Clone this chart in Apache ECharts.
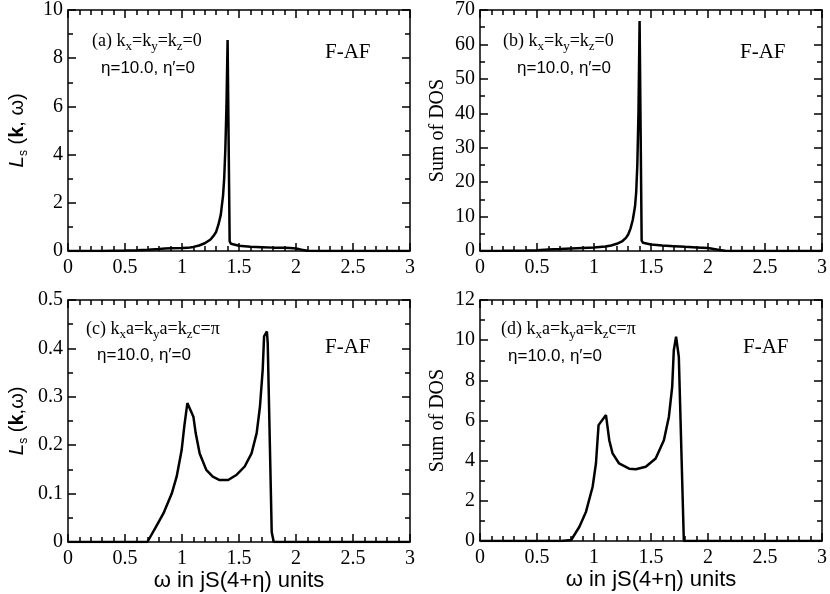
<!DOCTYPE html>
<html>
<head>
<meta charset="utf-8">
<script src="https://cdn.jsdelivr.net/npm/echarts@6/dist/echarts.min.js"></script>
<style>
  html, body { margin: 0; padding: 0; background: #fff; }
  #main { width: 830px; height: 594px; }
</style>
</head>
<body>
<div id="main"></div>
<script>
// (a) k=0 spectral function
var omegaA = [0, 0.3, 0.5, 0.6, 0.7, 0.8, 0.85, 0.9, 1.0, 1.05, 1.1, 1.15, 1.2, 1.25, 1.28, 1.3, 1.32, 1.34, 1.36, 1.37, 1.38, 1.39, 1.40, 1.418, 1.43, 1.5, 1.6, 1.7, 1.8, 1.9, 1.95, 2.0, 2.05, 2.1, 2.2, 3.0];
var lsA    = [0, 0.005, 0.02, 0.03, 0.05, 0.08, 0.1, 0.11, 0.12, 0.13, 0.17, 0.23, 0.32, 0.48, 0.65, 0.8, 1.1, 1.5, 2.3, 3.0, 4.2, 6.0, 8.75, 0.4, 0.3, 0.22, 0.18, 0.16, 0.14, 0.13, 0.12, 0.1, 0.05, 0.01, 0, 0];

// (b) k=0 sum of DOS
var omegaB = [0, 0.2, 0.4, 0.5, 0.6, 0.7, 0.8, 0.9, 1.0, 1.1, 1.15, 1.2, 1.25, 1.28, 1.3, 1.32, 1.34, 1.36, 1.37, 1.38, 1.39, 1.40, 1.418, 1.43, 1.5, 1.6, 1.7, 1.8, 1.9, 2.0, 2.05, 2.1, 2.15, 2.2, 3.0];
var dosB   = [0, 0.05, 0.15, 0.25, 0.4, 0.55, 0.75, 0.9, 1.0, 1.3, 1.6, 2.1, 2.9, 3.8, 4.8, 6.5, 9, 13, 17, 25, 40, 66.8, 3, 2.4, 1.9, 1.6, 1.4, 1.2, 1.05, 0.9, 0.6, 0.3, 0.05, 0, 0];

// (c) k=pi spectral function
var omegaC = [0, 0.696, 0.764, 0.837, 0.91, 0.953, 0.997, 1.02, 1.047, 1.10, 1.12, 1.155, 1.213, 1.27, 1.33, 1.405, 1.48, 1.55, 1.61, 1.655, 1.684, 1.708, 1.72, 1.745, 1.752, 1.787, 1.805, 3.0];
var lsC    = [0, 0, 0.028, 0.059, 0.10, 0.135, 0.19, 0.239, 0.287, 0.259, 0.225, 0.183, 0.149, 0.135, 0.128, 0.128, 0.139, 0.156, 0.183, 0.225, 0.28, 0.356, 0.425, 0.435, 0.41, 0.02, 0, 0];

// (d) k=pi sum of DOS
var omegaD = [0, 0.71, 0.80, 0.872, 0.93, 0.988, 1.017, 1.04, 1.105, 1.134, 1.163, 1.22, 1.308, 1.367, 1.454, 1.541, 1.613, 1.657, 1.686, 1.70, 1.72, 1.744, 1.788, 3.0];
var dosD   = [0, 0, 0.05, 0.71, 1.46, 2.7, 3.86, 5.77, 6.27, 5.02, 4.36, 3.86, 3.6, 3.57, 3.7, 4.11, 5.02, 6.19, 7.68, 9.5, 10.17, 9.17, 0, 0];

var yMax = [10, 70, 0.5, 12];
var yStep = [2, 10, 0.1, 2];

var serif = 'Liberation Serif';
var sans = 'Liberation Sans';

var grids = [
    {left: 68, top: 10, width: 342, height: 241},
    {left: 480, top: 10, width: 344, height: 241},
    {left: 68, top: 300, width: 342, height: 242},
    {left: 480, top: 300, width: 344, height: 241}
];

var zip = function (xs, ys) {
    var res = [];
    for (var i = 0; i < xs.length; i++) {
        res.push([xs[i], ys[i]]);
    }
    return res;
};

var tickStyle = {show: true, inside: true, length: 8, lineStyle: {color: '#000', width: 1.5}};
var minorStyle = {show: true, length: 5, lineStyle: {color: '#000', width: 1.5}};
var lineStyle = {show: true, onZero: false, lineStyle: {color: '#000', width: 1.5}};

var lsRich = {
    L: {fontFamily: sans, fontStyle: 'italic', fontSize: 21, lineHeight: 26, verticalAlign: 'middle'},
    s: {fontFamily: sans, fontSize: 12, lineHeight: 12, verticalAlign: 'bottom'},
    t: {fontFamily: sans, fontSize: 20, lineHeight: 26, verticalAlign: 'middle'},
    b: {fontFamily: sans, fontSize: 20, fontWeight: 'bold', lineHeight: 26, verticalAlign: 'middle'}
};
var lsNames = [
    '{L|L}{s|s}{t| (}{b|k}{t|, ω)}',
    '{L|L}{s|s}{t| (}{b|k}{t|,ω)}'
];

var xAxes = [], yAxes = [];
for (var g = 0; g < 4; g++) {
    var bottom = {
        type: 'value', gridIndex: g, position: 'bottom', min: 0, max: 3, interval: 0.5,
        axisLine: lineStyle, axisTick: tickStyle,
        minorTick: Object.assign({splitNumber: 5}, minorStyle),
        splitLine: {show: false},
        axisLabel: {color: '#000', fontFamily: serif, fontSize: 20, margin: 7}
    };
    if (g >= 2) {
        bottom.name = 'ω in jS(4+η) units';
        bottom.nameLocation = 'middle';
        bottom.nameGap = 25;
        bottom.nameTextStyle = {color: '#000', fontFamily: sans, fontSize: 22};
    }
    xAxes.push(bottom);
    xAxes.push({
        type: 'value', gridIndex: g, position: 'top', min: 0, max: 3, interval: 0.5,
        axisLine: lineStyle, axisTick: tickStyle,
        minorTick: Object.assign({splitNumber: 5}, minorStyle),
        splitLine: {show: false}, axisLabel: {show: false}
    });

    var left = {
        type: 'value', gridIndex: g, position: 'left', min: 0, max: yMax[g], interval: yStep[g],
        axisLine: lineStyle, axisTick: tickStyle,
        minorTick: Object.assign({splitNumber: 2}, minorStyle),
        splitLine: {show: false},
        axisLabel: {color: '#000', fontFamily: serif, fontSize: 20, margin: 5},
        nameLocation: 'middle', nameRotate: 90
    };
    if (g % 2 === 0) {
        left.name = lsNames[g / 2];
        left.nameGap = 38;
        left.nameTextStyle = {color: '#000', rich: lsRich};
    } else {
        left.name = 'Sum of DOS';
        left.nameGap = 32;
        left.nameTextStyle = {color: '#000', fontFamily: serif, fontSize: 20};
    }
    yAxes.push(left);
    yAxes.push({
        type: 'value', gridIndex: g, position: 'right', min: 0, max: yMax[g], interval: yStep[g],
        axisLine: lineStyle, axisTick: tickStyle,
        minorTick: Object.assign({splitNumber: 2}, minorStyle),
        splitLine: {show: false}, axisLabel: {show: false}
    });
}

var curves = [zip(omegaA, lsA), zip(omegaB, dosB), zip(omegaC, lsC), zip(omegaD, dosD)];
var series = curves.map(function (d, g) {
    return {
        type: 'line', xAxisIndex: 2 * g, yAxisIndex: 2 * g, data: d,
        showSymbol: false, smooth: false, animation: false,
        lineStyle: {color: '#000', width: 2.5}
    };
});

// panel annotations
var annRich = {
    t: {fontFamily: serif, fontSize: 18, lineHeight: 24, verticalAlign: 'middle', fill: '#000'},
    s: {fontFamily: serif, fontSize: 13, lineHeight: 13, verticalAlign: 'bottom', fill: '#000'}
};
var labelK0 = '{t|k}{s|x}{t|=k}{s|y}{t|=k}{s|z}{t|=0}';
var labelKpi = '{t|k}{s|x}{t|a=k}{s|y}{t|a=k}{s|z}{t|c=π}';
var panelText = [
    {tag: '(a) ', k: labelK0, x: 92, y: 32, ex: 101, ey: 60, fx: 325, fy: 42},
    {tag: '(b) ', k: labelK0, x: 503, y: 32, ex: 517, ey: 60, fx: 740, fy: 42},
    {tag: '(c) ', k: labelKpi, x: 86, y: 320, ex: 97, ey: 347, fx: 325, fy: 337},
    {tag: '(d) ', k: labelKpi, x: 501, y: 320, ex: 508, ey: 348, fx: 743, fy: 337}
];
var graphic = [];
panelText.forEach(function (p) {
    graphic.push({type: 'text', left: p.x, top: p.y,
        style: {text: '{t|' + p.tag + '}' + p.k, rich: annRich}});
    graphic.push({type: 'text', left: p.ex, top: p.ey,
        style: {text: 'η=10.0, η′=0', font: '17px "' + sans + '"', fill: '#000'}});
    graphic.push({type: 'text', left: p.fx, top: p.fy,
        style: {text: 'F-AF', font: '21px "' + serif + '"', fill: '#000'}});
});

var chart = echarts.init(document.getElementById('main'));
chart.setOption({
    backgroundColor: '#fff',
    animation: false,
    grid: grids,
    xAxis: xAxes,
    yAxis: yAxes,
    series: series,
    graphic: graphic
});
</script>
</body>
</html>
